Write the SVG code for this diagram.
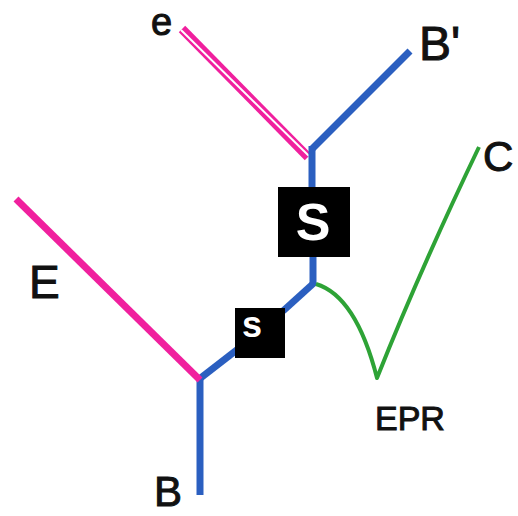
<svg xmlns="http://www.w3.org/2000/svg" width="518" height="516" viewBox="0 0 518 516">
  <style>
    .blue { stroke: #2b5fc0; stroke-width: 7; fill: none; stroke-linecap: butt; }
    .pink { stroke: #f0209e; stroke-width: 7; fill: none; }
    .green { stroke: #2ea336; stroke-width: 4; fill: none; stroke-linejoin: round; }
    .lbl { font-family: "Liberation Sans", Arial, sans-serif; fill: #111; stroke: #111; stroke-width: 1; }
    .box { fill: #000; }
    .boxtxt { font-family: "Liberation Sans", Arial, sans-serif; font-weight: bold; fill: #fff; text-anchor: middle; }
  </style>
  <rect width="518" height="516" fill="#fff"/>
  <g id="connectors">
    <!-- double bond to e -->
    <line x1="182" y1="29" x2="308" y2="157" stroke="#f0209e" stroke-width="9"/>
    <line x1="181" y1="30" x2="309" y2="156" stroke="#fff" stroke-width="2"/>
    <line class="blue" x1="312" y1="149" x2="410" y2="51"/>
    <line class="blue" x1="312" y1="146" x2="312" y2="188"/>
    <line class="blue" x1="313" y1="256" x2="313" y2="284"/>
    <line class="blue" x1="315" y1="282" x2="283" y2="311"/>
    <line class="blue" x1="238" y1="349" x2="198" y2="380"/>
    <line class="blue" x1="200" y1="376" x2="200" y2="495"/>
    <line class="pink" x1="16" y1="199" x2="200" y2="380"/>
    <path class="green" d="M316,284 Q356,296 377,378 Q420,270 479,147"/>
  </g>
  <g id="node-big-s">
    <rect class="box" x="278" y="187" width="72" height="70"/>
    <text class="boxtxt" x="313" y="240" font-size="52">S</text>
  </g>
  <g id="node-small-s">
    <rect class="box" x="235" y="308" width="50" height="50"/>
    <text class="boxtxt" x="252" y="337" font-size="36">s</text>
  </g>
  <g id="labels">
    <text class="lbl" x="151" y="35" font-size="38">e</text>
    <text class="lbl" x="419" y="60" font-size="48">B'</text>
    <text class="lbl" x="483" y="171" font-size="42">C</text>
    <text class="lbl" x="29" y="298" font-size="46">E</text>
    <text class="lbl" x="375" y="430" font-size="34" stroke-width="0.6">EPR</text>
    <text class="lbl" x="154" y="506" font-size="42">B</text>
  </g>
</svg>
